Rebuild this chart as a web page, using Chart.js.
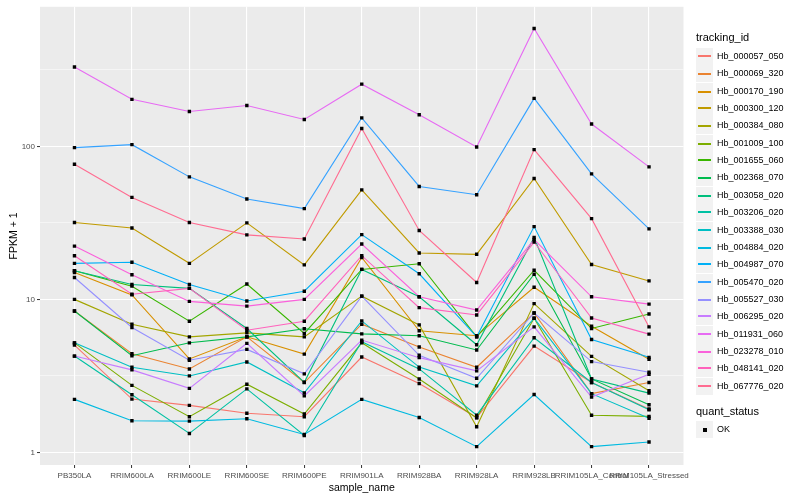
<!DOCTYPE html>
<html>
<head>
<meta charset="utf-8">
<script src="https://cdn.jsdelivr.net/npm/chart.js@4.4.0/dist/chart.umd.min.js"></script>
<style>
  body { margin: 0; background: #fff; font-family: "Liberation Sans", Arial, sans-serif; }
  #wrap { position: relative; width: 800px; height: 500px; }
  #chart { position: absolute; left: 0; top: 0; }
  .ttl { position: absolute; left: 696px; font-size: 11px; color: #000; line-height: 13px; }
  .item { position: absolute; left: 696px; height: 17px; font-size: 9px; color: #000; }
  .key { position: absolute; left: 0; top: 0; width: 17px; height: 17px; background: #F2F2F2; }
  .key i { position: absolute; left: 2px; width: 13px; height: 2px; }
  .key b { position: absolute; left: 7px; top: 7px; width: 4px; height: 4px; background: #000; }
  .item span { position: absolute; left: 21px; top: 2px; white-space: nowrap; line-height: 12px; }
</style>
</head>
<body>
<div id="wrap">
  <canvas id="chart" width="800" height="500"></canvas>
  <div id="legend"></div>
</div>
<script>
'use strict';

// ── Datos ───────────────────────────────────────────────
const categories = ['PB350LA', 'RRIM600LA', 'RRIM600LE', 'RRIM600SE', 'RRIM600PE', 'RRIM901LA',
  'RRIM928BA', 'RRIM928LA', 'RRIM928LB', 'RRIM105LA_Control', 'RRIM105LA_Stressed'];

const trackingIds = ['Hb_000057_050', 'Hb_000069_320', 'Hb_000170_190', 'Hb_000300_120', 'Hb_000384_080',
  'Hb_001009_100', 'Hb_001655_060', 'Hb_002368_070', 'Hb_003058_020', 'Hb_003206_020', 'Hb_003388_030',
  'Hb_004884_020', 'Hb_004987_070', 'Hb_005470_020', 'Hb_005527_030', 'Hb_006295_020', 'Hb_011931_060',
  'Hb_023278_010', 'Hb_048141_020', 'Hb_067776_020'];

const hb000057 = [5.03, 2.23, 2.03, 1.80, 1.71, 4.20, 2.82, 1.69, 4.95, 2.86, 1.92];
const hb000069 = [8.4, 4.41, 3.51, 5.69, 2.86, 6.88, 4.88, 3.6, 8.15, 2.42, 2.86];
const hb000170 = [15.0, 10.7, 4.08, 5.69, 4.39, 18.8, 6.23, 5.78, 12.0, 6.68, 4.06];
const hb000300 = [31.8, 29.3, 17.2, 31.6, 16.8, 52.0, 20.1, 19.7, 61.7, 16.9, 13.2];
const hb000384 = [10.0, 6.88, 5.69, 6.04, 5.69, 10.5, 6.81, 1.47, 9.38, 4.24, 2.53];
const hb001009 = [5.2, 2.74, 1.71, 2.79, 1.78, 5.2, 3.02, 1.68, 7.53, 1.75, 1.72];
const hb001655 = [15.4, 12.2, 7.2, 12.6, 5.99, 15.7, 17.1, 5.69, 15.5, 6.45, 8.03];
const hb002368 = [8.4, 4.28, 5.2, 5.69, 6.43, 5.95, 5.78, 4.67, 14.6, 3.02, 2.05];
const hb003058 = [15.4, 12.5, 11.8, 6.45, 2.87, 15.7, 10.4, 5.05, 25.4, 3.02, 2.44];
const hb003206 = [4.26, 2.38, 1.33, 2.6, 1.29, 5.28, 3.51, 1.75, 5.61, 2.86, 1.9];
const hb003388 = [5.2, 3.6, 3.16, 3.9, 2.45, 7.23, 3.61, 2.72, 7.53, 2.42, 1.67];
const hb004884 = [2.22, 1.61, 1.60, 1.66, 1.31, 2.22, 1.69, 1.09, 2.39, 1.09, 1.17];
const hb004987 = [17.2, 17.5, 12.5, 9.75, 11.3, 26.5, 14.7, 5.69, 29.9, 5.47, 4.18];
const hb005470 = [98.1, 102.6, 63.2, 45.3, 39.2, 153.6, 54.7, 48.3, 206, 66.1, 28.9];
const hb005527 = [13.9, 6.55, 4.0, 4.71, 3.26, 10.5, 4.31, 3.05, 8.15, 3.92, 3.34];
const hb006295 = [4.26, 3.46, 2.62, 5.16, 2.34, 5.42, 4.16, 3.41, 6.61, 2.30, 3.24];
const hb011931 = [330, 203, 169, 185, 150, 255, 161, 99, 590, 140, 73.4];
const hb023278 = [22.3, 14.5, 9.7, 9.04, 10.0, 23.0, 10.4, 8.52, 24.6, 10.4, 9.31];
const hb048141 = [19.3, 10.8, 11.8, 6.29, 7.2, 19.3, 8.83, 7.91, 23.7, 7.56, 5.93];
const hb067776 = [76.4, 46.4, 31.8, 26.4, 24.8, 130.9, 28.2, 12.9, 95.2, 33.7, 6.61];

const seriesValues = [hb000057, hb000069, hb000170, hb000300, hb000384, hb001009, hb001655, hb002368,
  hb003058, hb003206, hb003388, hb004884, hb004987, hb005470, hb005527, hb006295, hb011931,
  hb023278, hb048141, hb067776];

const yTickLabels = [1, 10, 100];
const yGridValues = [1, Math.sqrt(10), 10, 10 * Math.sqrt(10), 100, 100 * Math.sqrt(10)];

// ── Colores (paleta hue de ggplot) ─────────────────────
const palette = ['#F8766D', '#EA8331', '#D89000', '#C09B00', '#A3A500', '#7CAE00', '#39B600', '#00BB4E',
  '#00BF7D', '#00C1A3', '#00BFC4', '#00BAE0', '#00B0F6', '#35A2FF', '#9590FF', '#C77CFF', '#E76BF3',
  '#FA62DB', '#FF62BC', '#FF6C91'];

// ── Fondo gris del panel ───────────────────────────────
const panelBg = {
  id: 'panelBg',
  beforeDraw(chart) {
    const { ctx, chartArea: a } = chart;
    ctx.save();
    ctx.fillStyle = '#EBEBEB';
    ctx.fillRect(a.left, a.top, a.right - a.left, a.bottom - a.top);
    ctx.restore();
  }
};

const lineSets = seriesValues.map((vals, i) => ({
  label: trackingIds[i],
  data: vals.map((v, j) => ({ x: j, y: v })),
  borderColor: palette[i],
  borderWidth: 1.1,
  pointRadius: 0,
  tension: 0,
  fill: false,
  order: 100 - i
}));

const pointSet = {
  label: 'OK',
  data: seriesValues.flatMap(vals => vals.map((v, j) => ({ x: j, y: v }))),
  showLine: false,
  pointStyle: 'rect',
  pointRadius: 2.4,
  pointBorderWidth: 0,
  pointBackgroundColor: '#000',
  order: 0
};

const isMajor = v => yTickLabels.some(t => Math.abs(t - v) < 1e-9);

new Chart(document.getElementById('chart'), {
  type: 'line',
  data: { datasets: [...lineSets, pointSet] },
  plugins: [panelBg],
  options: {
    responsive: false,
    animation: false,
    devicePixelRatio: 1,
    events: [],
    layout: { padding: { top: 5, right: 116.5, bottom: 6, left: 8 } },
    plugins: { legend: { display: false }, tooltip: { enabled: false } },
    scales: {
      x: {
        type: 'linear',
        min: -0.6,
        max: 10.6,
        afterBuildTicks: s => { s.ticks = categories.map((c, i) => ({ value: i })); },
        afterFit: s => { s.height = 29; },
        ticks: {
          callback: v => categories[v],
          autoSkip: false, maxRotation: 0, padding: 3,
          color: '#4D4D4D', font: { family: '"Liberation Sans", Arial', size: 8 }
        },
        grid: { color: '#FFFFFF', lineWidth: 1.1, tickLength: 3, tickColor: '#333333', tickWidth: 1 },
        border: { display: false },
        title: {
          display: true, text: 'sample_name', color: '#000', padding: { top: 0, bottom: 0 },
          font: { family: '"Liberation Sans", Arial', size: 10.5 }
        }
      },
      y: {
        type: 'logarithmic',
        min: 0.827,
        max: 817,
        afterBuildTicks: s => { s.ticks = yGridValues.map(v => ({ value: v, major: isMajor(v) })); },
        afterFit: s => { s.width = 32; },
        ticks: {
          callback: v => isMajor(v) ? String(Math.round(v)) : '',
          padding: 2, color: '#4D4D4D', font: { family: '"Liberation Sans", Arial', size: 8 }
        },
        grid: {
          color: '#FFFFFF',
          lineWidth: c => isMajor(c.tick.value) ? 1.1 : 0.5,
          tickLength: 3,
          tickColor: c => isMajor(c.tick.value) ? '#333333' : 'rgba(0,0,0,0)',
          tickWidth: 1
        },
        border: { display: false },
        title: {
          display: true, text: 'FPKM + 1', color: '#000', padding: { top: 0, bottom: 0 },
          font: { family: '"Liberation Sans", Arial', size: 10.5 }
        }
      }
    }
  }
});

// ── Leyenda estilo ggplot ──────────────────────────────
const legend = document.getElementById('legend');
let html = '<div class="ttl" style="top:31px">tracking_id</div>';
trackingIds.forEach((id, i) => {
  const top = Math.round(48 + i * 17.35);
  const lineTop = (top + 8) % 2 === 0 ? 7 : 8;   // fila par para la línea de la clave
  html += `<div class="item" style="top:${top}px"><div class="key"><i style="top:${lineTop}px;background:${palette[i]}"></i></div><span>${id}</span></div>`;
});
html += '<div class="ttl" style="top:405px">quant_status</div>';
html += '<div class="item" style="top:421px"><div class="key"><b></b></div><span>OK</span></div>';
legend.innerHTML = html;
</script>
</body>
</html>
